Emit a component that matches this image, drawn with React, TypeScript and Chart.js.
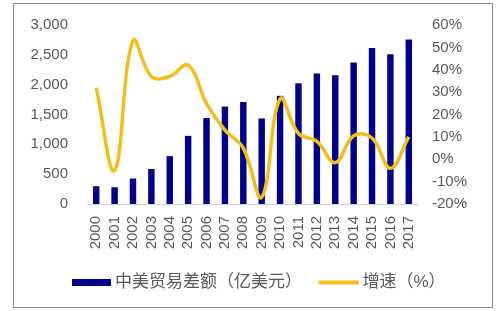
import React, { useEffect, useRef } from "react";
import { Chart, registerables } from "chart.js";

Chart.register(...registerables);

const years = ["2000","2001","2002","2003","2004","2005","2006","2007","2008","2009","2010","2011","2012","2013","2014","2015","2016","2017"];
const surplus = [297, 281, 427, 586, 802, 1142, 1442, 1633, 1709, 1434, 1813, 2023, 2189, 2158, 2370, 2614, 2508, 2758];
const growth = [32, -5, 53, 37, 37, 42, 25, 13, 5, -17, 27, 11.5, 8, -1.5, 10.5, 9.5, -4, 10];
const barLabel = "中美贸易差额（亿美元）";
const lineLabel = "增速（%）";

const BAR_COLOR = "#00008C";
const LINE_COLOR = "#F5BD1A";
const TEXT_COLOR = "#595959";
const FONT = "'Liberation Sans', Arial, 'Noto Sans CJK SC', sans-serif";

function makeBox(w: number, h: number, color: string, round: boolean) {
  const c = document.createElement("canvas");
  c.width = w;
  c.height = h + 2;
  const ctx = c.getContext("2d")!;
  if (round) {
    ctx.strokeStyle = color;
    ctx.lineWidth = h;
    ctx.lineCap = "round";
    ctx.beginPath();
    ctx.moveTo(h / 2, (h + 2) / 2);
    ctx.lineTo(w - h / 2, (h + 2) / 2);
    ctx.stroke();
  } else {
    ctx.fillStyle = color;
    ctx.fillRect(0, 1, w, h);
  }
  return c;
}

export default function App() {
  const ref = useRef<HTMLCanvasElement>(null);
  useEffect(() => {
    const barIcon = makeBox(39, 7, BAR_COLOR, false);
    const lineIcon = makeBox(41, 4, LINE_COLOR, true);
    const chart = new Chart(ref.current!, {
      type: "bar",
      data: {
        labels: years,
        datasets: [
          {
            type: "bar",
            label: barLabel,
            data: surplus,
            backgroundColor: BAR_COLOR,
            yAxisID: "y",
            barPercentage: 0.7,
            categoryPercentage: 0.5,
            order: 2,
          },
          {
            type: "line",
            label: lineLabel,
            data: growth,
            borderColor: LINE_COLOR,
            backgroundColor: LINE_COLOR,
            borderWidth: 3.5,
            pointRadius: 0,
            tension: 0.4,
            yAxisID: "y1",
            order: 1,
          },
        ],
      },
      options: {
        animation: false,
        responsive: false,
        layout: { padding: { top: 21, left: 16, right: 0, bottom: 6 } },
        scales: {
          x: {
            grid: { display: false, drawTicks: false },
            border: { display: true, color: "#C9D3E3", width: 1 },
            ticks: {
              color: TEXT_COLOR,
              font: { family: FONT, size: 15 },
              minRotation: 90,
              maxRotation: 90,
              padding: 12,
              autoSkip: false,
            },
            afterFit: (s: any) => { s.height = 48; },
          },
          y: {
            position: "left",
            min: 0,
            max: 3000,
            grid: { display: false, drawTicks: true, tickLength: 16 },
            border: { display: false },
            ticks: {
              stepSize: 500,
              autoSkip: false,
              color: TEXT_COLOR,
              font: { family: FONT, size: 15 },
              padding: 3,
              callback: (v: any) => Number(v).toLocaleString("en-US"),
            },
            afterFit: (s: any) => { s.width = 57; },
          },
          y1: {
            position: "right",
            min: -20,
            max: 60,
            grid: { display: false, drawTicks: true, tickLength: 11 },
            border: { display: false },
            ticks: {
              stepSize: 10,
              autoSkip: false,
              color: TEXT_COLOR,
              font: { family: FONT, size: 15 },
              padding: 3,
              callback: (v: any) => v + "%",
            },
            afterFit: (s: any) => { s.width = 74; },
          },
        },
        plugins: {
          tooltip: { enabled: false },
          legend: {
            position: "bottom",
            labels: {
              color: TEXT_COLOR,
              font: { family: FONT, size: 17 },
              usePointStyle: true,
              pointStyleWidth: 30,
              padding: 22,
              sort: (a: any, b: any) => a.datasetIndex - b.datasetIndex,
              generateLabels: (c: any) => {
                const items = Chart.defaults.plugins.legend.labels.generateLabels(c);
                return items.map((it: any) => ({ ...it, pointStyle: it.datasetIndex === 0 ? barIcon : lineIcon }));
              },
            },
          },
        },
      },
    });
    return () => chart.destroy();
  }, []);
  return (
    <div
      style={{
        position: "absolute",
        left: 13,
        top: 3,
        width: 480,
        height: 305,
        border: "1px solid #8C8C8C",
        boxSizing: "border-box",
        background: "#fff",
      }}
    >
      <canvas ref={ref} width={478} height={303} style={{ display: "block" }} />
    </div>
  );
}
